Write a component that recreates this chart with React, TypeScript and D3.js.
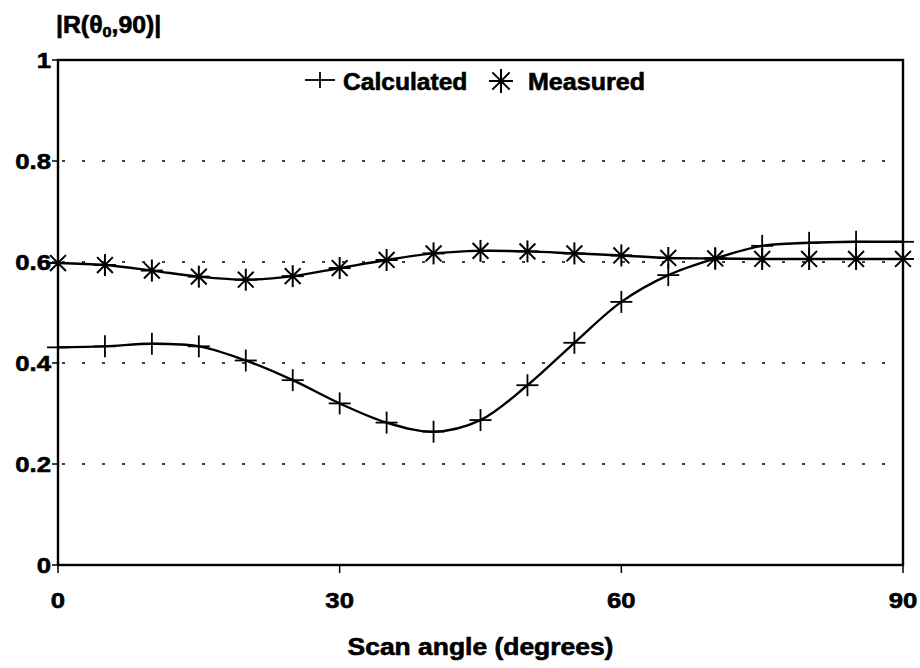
import React from "react";
import * as d3 from "d3";

const angles = [0, 5, 10, 15, 20, 25, 30, 35, 40, 45, 50, 55, 60, 65, 70, 75, 80, 85, 90];
const calculated = [0.431, 0.433, 0.438, 0.433, 0.405, 0.366, 0.32, 0.282, 0.264, 0.287, 0.356, 0.44, 0.521, 0.574, 0.607, 0.632, 0.638, 0.64, 0.64];
const measured = [0.598, 0.594, 0.583, 0.571, 0.565, 0.572, 0.588, 0.604, 0.617, 0.622, 0.621, 0.617, 0.613, 0.608, 0.607, 0.606, 0.606, 0.606, 0.606];
const xTicks = [0, 30, 60, 90];
const yTicks = [0, 0.2, 0.4, 0.6, 0.8, 1];
const gridValues = [0.2, 0.4, 0.6, 0.8];

const W = 920, H = 668;
const L = 58, R = 903, T = 60, B = 565;
const FONT = "'Liberation Sans', Arial, sans-serif";

function Txt(props: { x: number; y: number; size?: number; sx?: number; anchor?: string; children: React.ReactNode }) {
  const { x, y, size = 23, sx = 1.12, anchor = "start", children } = props;
  return (
    <text
      transform={`translate(${x},${y}) scale(${sx},1)`}
      fontSize={size}
      fontWeight="bold"
      textAnchor={anchor}
      stroke="#000"
      strokeWidth={0.6}
      fill="#000"
    >
      {children}
    </text>
  );
}

export default function App() {
  const x = d3.scaleLinear().domain([0, 90]).range([L, R]);
  const y = d3.scaleLinear().domain([0, 1]).range([B, T]);
  const line = d3.line<number>().x((_, i) => x(angles[i])).y((d) => y(d)).curve(d3.curveCatmullRom.alpha(0.5));

  const plus = (cx: number, cy: number, k: string, hw = 11, hh = 11) => (
    <g key={k} stroke="#000" strokeWidth={1.8}>
      <line x1={cx - hw} x2={cx + hw} y1={cy} y2={cy} />
      <line x1={cx} x2={cx} y1={cy - hh} y2={cy + hh} />
    </g>
  );
  const star = (cx: number, cy: number, k: string, r = 11) => {
    const d = r * 0.72;
    return (
      <g key={k} stroke="#000" strokeWidth={2}>
        <line x1={cx - r} x2={cx + r} y1={cy} y2={cy} />
        <line x1={cx} x2={cx} y1={cy - r} y2={cy + r} />
        <line x1={cx - d} x2={cx + d} y1={cy - d} y2={cy + d} />
        <line x1={cx - d} x2={cx + d} y1={cy + d} y2={cy - d} />
      </g>
    );
  };

  return (
    <svg width={W} height={H} style={{ position: "absolute", left: 0, top: 0, background: "#fff" }} fontFamily={FONT}>
      <rect x={0} y={0} width={W} height={H} fill="#fff" />
      {gridValues.map((v) => (
        <line key={v} x1={L + 4} x2={R - 4} y1={y(v)} y2={y(v)} stroke="#000" strokeWidth={1.6} strokeDasharray="3 17" />
      ))}
      <rect x={L} y={T} width={R - L} height={B - T} fill="none" stroke="#000" strokeWidth={2.4} />
      {yTicks.map((v) => (
        <g key={"yt" + v}>
          <line x1={L - 6} x2={L} y1={y(v)} y2={y(v)} stroke="#000" strokeWidth={1.5} />
          <Txt x={L - 7} y={y(v) + 8} anchor="end">{String(v)}</Txt>
        </g>
      ))}
      {xTicks.map((v) => (
        <g key={"xt" + v}>
          <line x1={x(v)} x2={x(v)} y1={B} y2={B + 8} stroke="#000" strokeWidth={1.5} />
          <Txt x={x(v)} y={B + 43} anchor="middle">{String(v)}</Txt>
        </g>
      ))}
      <path d={line(calculated) || ""} fill="none" stroke="#000" strokeWidth={2.4} />
      <path d={line(measured) || ""} fill="none" stroke="#000" strokeWidth={2.4} />
      {calculated.map((v, i) => plus(x(angles[i]), y(v), "p" + i))}
      {measured.map((v, i) => star(x(angles[i]), y(v), "s" + i))}
      {plus(320, 80, "lp", 15, 8)}
      <Txt x={343} y={90} sx={1.07}>Calculated</Txt>
      {star(501, 81, "ls", 12)}
      <Txt x={528} y={90} sx={1.09}>Measured</Txt>
      <Txt x={56} y={33} sx={1.08}>
        |R(θ<tspan fontSize={15} dy={4}>0</tspan><tspan dy={-4}>,90)|</tspan>
      </Txt>
      <Txt x={(L + R) / 2} y={655} sx={1.15} anchor="middle">Scan angle (degrees)</Txt>
    </svg>
  );
}
